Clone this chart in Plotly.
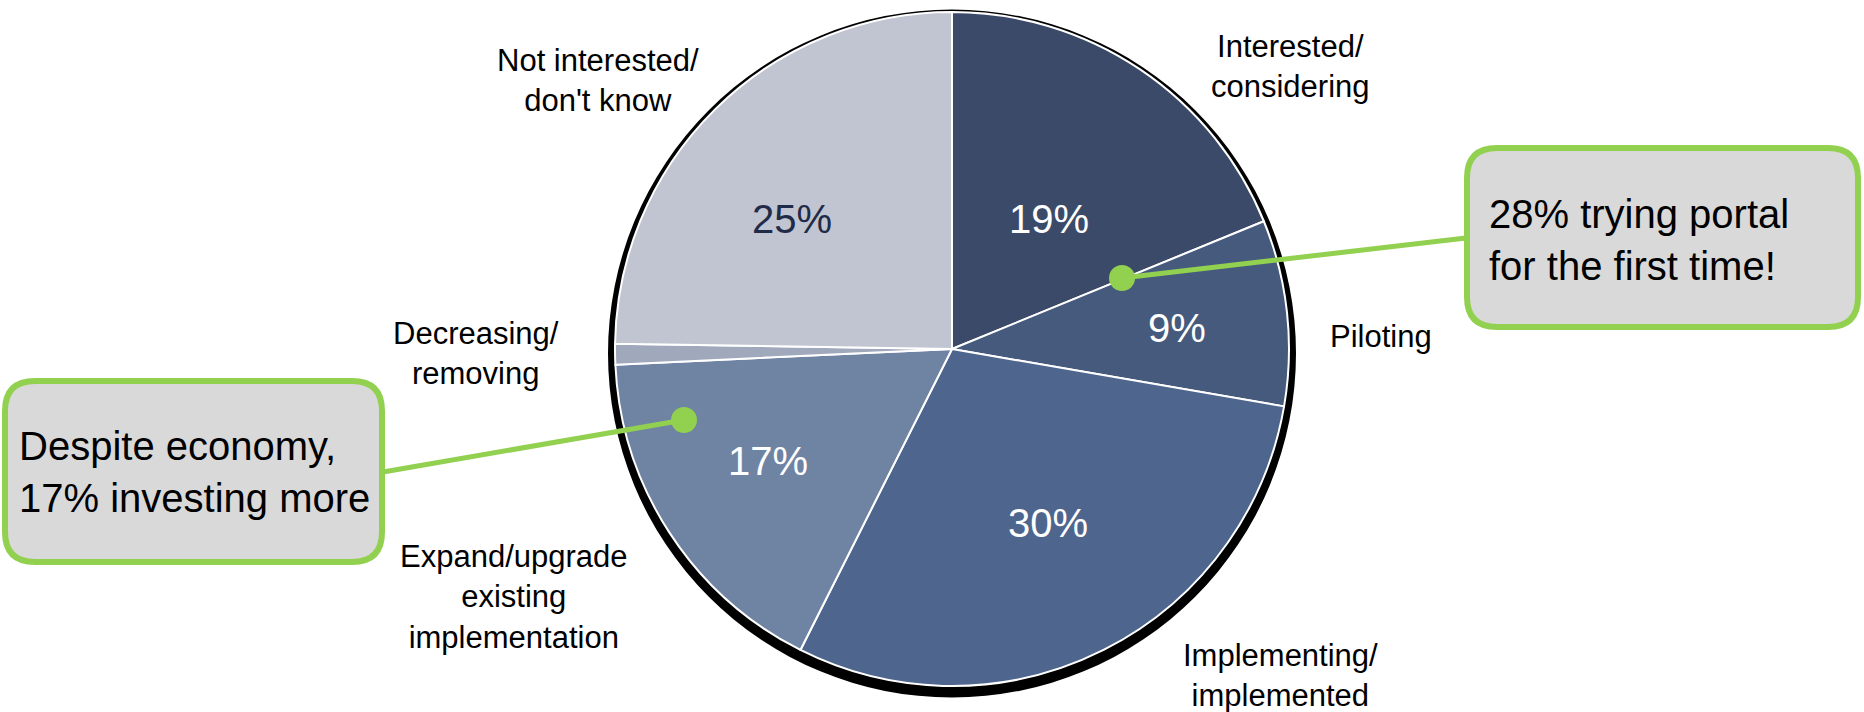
import plotly.graph_objects as go

# ---------------- data ----------------
categories = ["Interested/<br>considering", "Piloting", "Implementing/<br>implemented",
              "Expand/upgrade<br>existing<br>implementation", "Decreasing/<br>removing",
              "Not interested/<br>don't know"]
values = [19, 9, 30, 17, 1, 25]
pct_labels = ["19%", "9%", "30%", "17%", "", "25%"]
callout_right = "28% trying portal<br>for the first time!"
callout_left = "Despite economy,<br>17% investing more"

# ---------------- styles / layout ----------------
W, H = 1864, 712
colors = ["#3c4a6a", "#465a7e", "#4e668e", "#6f83a3", "#a0a9bc", "#c0c5d1"]
pct_colors = ["white", "white", "white", "white", "white", "#1f2b47"]
FONT = "Liberation Sans, Arial, sans-serif"
GREEN = "#92d050"

CX, CY, R = 952, 349, 337  # pie centre / radius in pixels


def px(x):
    return x / W


def py(y):
    return 1 - y / H


# pixel positions of in-slice percentages and outside labels
pct_pos = [(1049, 219), (1177, 328), (1048, 523), (768, 461), (0, 0), (792, 219)]
label_pos = [(1290, 67), (1381, 336), (1280, 675), (514, 597), (476, 353), (598, 81)]

fig = go.Figure()
fig.add_trace(go.Pie(
    labels=categories, values=values, sort=False, direction="clockwise", rotation=0,
    marker=dict(colors=colors, line=dict(color="white", width=2)),
    textinfo="none", hoverinfo="label+value", showlegend=False,
    domain=dict(x=[px(CX - R), px(CX + R)], y=[py(CY + R), py(CY - R)]),
))

shapes = []
# dark shadow rim behind pie
shapes.append(dict(type="circle", xref="paper", yref="paper", layer="below",
                   x0=px(952 - 344), x1=px(952 + 344), y0=py(353.5 + 344), y1=py(353.5 - 344),
                   fillcolor="black", line=dict(width=0)))


def rounded_rect(x0, y0, x1, y1, r):
    pts = [
        f"M{px(x0 + r)},{py(y0)}",
        f"L{px(x1 - r)},{py(y0)}",
        f"Q{px(x1)},{py(y0)} {px(x1)},{py(y0 + r)}",
        f"L{px(x1)},{py(y1 - r)}",
        f"Q{px(x1)},{py(y1)} {px(x1 - r)},{py(y1)}",
        f"L{px(x0 + r)},{py(y1)}",
        f"Q{px(x0)},{py(y1)} {px(x0)},{py(y1 - r)}",
        f"L{px(x0)},{py(y0 + r)}",
        f"Q{px(x0)},{py(y0)} {px(x0 + r)},{py(y0)}",
        "Z",
    ]
    return " ".join(pts)


# connector lines
shapes.append(dict(type="line", xref="paper", yref="paper", layer="above",
                   x0=px(1122), y0=py(278), x1=px(1466), y1=py(238),
                   line=dict(color=GREEN, width=5)))
shapes.append(dict(type="line", xref="paper", yref="paper", layer="above",
                   x0=px(684), y0=py(420), x1=px(383), y1=py(472),
                   line=dict(color=GREEN, width=5)))
# dots
for (dx, dy) in [(1122, 278), (684, 420)]:
    shapes.append(dict(type="circle", xref="paper", yref="paper", layer="above",
                       x0=px(dx - 13), x1=px(dx + 13), y0=py(dy + 13), y1=py(dy - 13),
                       fillcolor=GREEN, line=dict(width=0)))
# callout boxes
shapes.append(dict(type="path", xref="paper", yref="paper", layer="above",
                   path=rounded_rect(1467, 148, 1858, 327, 30),
                   fillcolor="#d9d9d9", line=dict(color=GREEN, width=6)))
shapes.append(dict(type="path", xref="paper", yref="paper", layer="above",
                   path=rounded_rect(5, 381, 382, 562, 30),
                   fillcolor="#d9d9d9", line=dict(color=GREEN, width=6)))

annotations = []
for txt, (x, y), c in zip(pct_labels, pct_pos, pct_colors):
    if not txt:
        continue
    annotations.append(dict(text=txt, x=px(x), y=py(y), xref="paper", yref="paper",
                            showarrow=False, xanchor="center", yanchor="middle",
                            font=dict(family=FONT, size=40, color=c)))
for txt, (x, y) in zip(categories, label_pos):
    annotations.append(dict(text=txt, x=px(x), y=py(y), xref="paper", yref="paper",
                            showarrow=False, xanchor="center", yanchor="middle", align="center",
                            font=dict(family=FONT, size=31, color="black")))
annotations.append(dict(text=callout_right, x=px(1487), y=py(240), xref="paper", yref="paper",
                        showarrow=False, xanchor="left", yanchor="middle", align="left",
                        font=dict(family=FONT, size=40, color="black")))
annotations.append(dict(text=callout_left, x=px(17), y=py(472), xref="paper", yref="paper",
                        showarrow=False, xanchor="left", yanchor="middle", align="left",
                        font=dict(family=FONT, size=40, color="black")))

fig.update_layout(
    width=W, height=H, margin=dict(l=0, r=0, t=0, b=0),
    paper_bgcolor="white", plot_bgcolor="white",
    shapes=shapes, annotations=annotations,
)

fig.write_html("out.html")
